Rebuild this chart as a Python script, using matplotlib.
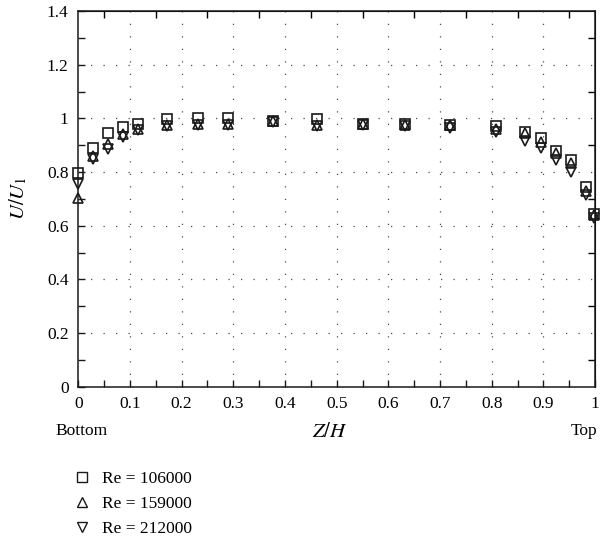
import numpy as np
import matplotlib
matplotlib.use("Agg")
import matplotlib.pyplot as plt
from matplotlib.lines import Line2D

plt.rcParams['font.family'] = ['Liberation Serif', 'DejaVu Serif']
plt.rcParams['mathtext.fontset'] = 'stix'

# Z/H positions
zh = [0.0, 0.028, 0.057, 0.086, 0.115, 0.171, 0.231, 0.29, 0.376, 0.462,
      0.55, 0.633, 0.72, 0.808, 0.865, 0.895, 0.924, 0.953, 0.982, 0.997]
# U/U1 for each Re
re106 = [0.795, 0.89, 0.947, 0.967, 0.978, 0.996, 1.0, 1.0, 0.99, 0.997,
         0.98, 0.98, 0.975, 0.97, 0.95, 0.925, 0.88, 0.843, 0.745, 0.645]
re159 = [0.705, 0.86, 0.905, 0.94, 0.962, 0.975, 0.978, 0.978, 0.99, 0.975,
         0.98, 0.975, 0.975, 0.962, 0.944, 0.911, 0.87, 0.832, 0.73, 0.64]
re212 = [0.757, 0.85, 0.885, 0.93, 0.955, 0.972, 0.975, 0.975, 0.985, 0.97,
         0.975, 0.972, 0.965, 0.95, 0.915, 0.888, 0.843, 0.80, 0.713, 0.63]
labels = ['Re = 106000', 'Re = 159000', 'Re = 212000']
markers = ['s', '^', 'v']

fs = 12.5
fig = plt.figure(figsize=(6.1, 5.48), dpi=100)
ax = fig.add_axes([0.1283, 0.2943, 0.8474, 0.6856])

col = '0.1'
for y, m in zip([re106, re159, re212], markers):
    ax.plot(zh, y, linestyle='none', marker=m, markersize=7.8,
            markerfacecolor='none', markeredgecolor=col, markeredgewidth=1.2,
            clip_on=False, zorder=3)

ax.set_xlim(0, 1)
ax.set_ylim(0, 1.4)
ax.set_xticks(np.arange(0, 1.01, 0.1))
ax.set_xticklabels(['0', '0.1', '0.2', '0.3', '0.4', '0.5', '0.6', '0.7', '0.8', '0.9', '1'])
ax.set_yticks(np.arange(0, 1.41, 0.2))
ax.set_yticklabels(['0', '0.2', '0.4', '0.6', '0.8', '1', '1.2', '1.4'])
ax.set_xticks(np.arange(0.05, 1, 0.1), minor=True)
ax.set_yticks(np.arange(0.1, 1.4, 0.2), minor=True)
ax.tick_params(which='both', direction='in', length=5, width=1, labelsize=fs,
               color='0.1', pad=7)
ax.tick_params(which='both', left=True, bottom=True, top=False, right=False)

# top/right ticks only at the odd positions
axt = ax.secondary_xaxis('top')
axt.set_xticks(np.arange(0.05, 1, 0.1))
axt.tick_params(direction='in', length=5, width=1, labeltop=False)
axr = ax.secondary_yaxis('right')
axr.set_yticks(np.arange(0.1, 1.4, 0.2))
axr.tick_params(direction='in', length=5, width=1, labelright=False)

for s in ax.spines.values():
    s.set_linewidth(1.1)
    s.set_color('0.1')

for v in np.arange(0.1, 0.95, 0.1):
    ax.axvline(v, color='0.3', linewidth=0.9, linestyle=(0, (1, 9)), zorder=1)
for h in np.arange(0.2, 1.25, 0.2):
    ax.axhline(h, color='0.3', linewidth=0.9, linestyle=(0, (1, 9)), zorder=1)

fig.text(0.134, 0.213, 'Bottom', ha='center', va='center', fontsize=fs)
fig.text(0.979, 0.213, 'Top', ha='right', va='center', fontsize=fs)
fig.text(0.541, 0.211, '$Z/H$', ha='center', va='center', fontsize=15)
fig.text(0.03, 0.638, '$U/U_1$', ha='center', va='center', fontsize=15, rotation=90)

handles = [Line2D([], [], linestyle='none', marker=m, markersize=7.5,
                  markerfacecolor='none', markeredgecolor=col, markeredgewidth=1)
           for m in markers]
fig.legend(handles, labels, loc='upper left', bbox_to_anchor=(0.122, 0.14),
           frameon=False, fontsize=fs, handlelength=0.9, handletextpad=0.7,
           labelspacing=0.5, borderaxespad=0, borderpad=0)

fig.savefig('out.png', dpi=100)
